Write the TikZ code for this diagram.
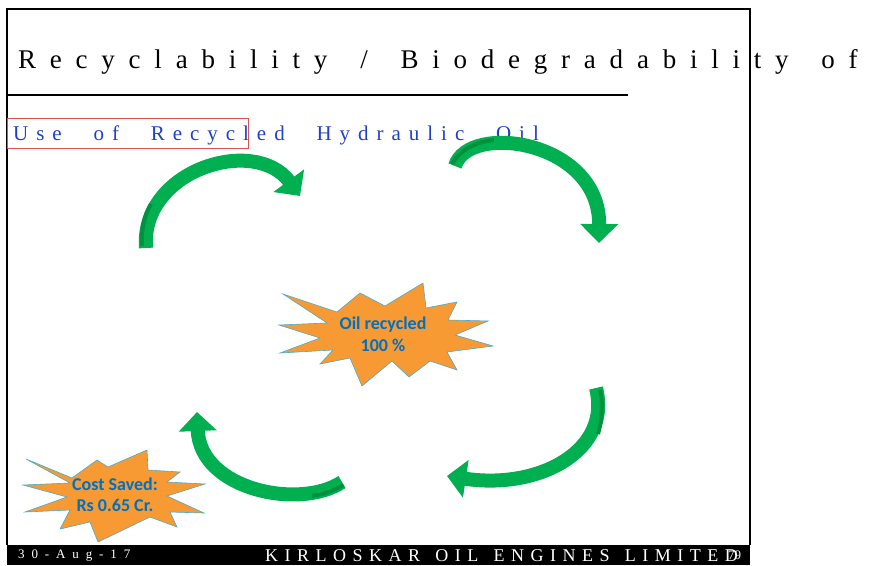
\documentclass[tikz,border=0pt]{standalone}
\usepackage{fontspec}
\setmainfont{Liberation Serif}
\newfontfamily\titlefont[LetterSpace=51,WordSpace=1.6]{Liberation Serif}
\newfontfamily\subfont[LetterSpace=38,WordSpace=2.4]{Liberation Serif}
\newfontfamily\footfont[LetterSpace=36,WordSpace=1.4]{Liberation Serif}
\newfontfamily\datefont[LetterSpace=53]{Liberation Serif}
\newfontfamily\burstfont{Carlito}
\usetikzlibrary{arrows.meta}
\definecolor{cycgreen}{HTML}{00B050}
\definecolor{cycdark}{HTML}{00913F}
\definecolor{burstorange}{HTML}{F79A34}
\definecolor{burstedge}{HTML}{4BACC6}
\definecolor{bursttext}{HTML}{0070C0}
\definecolor{subblue}{HTML}{2040C8}
\definecolor{boxred}{HTML}{D9534F}
\begin{document}
\begin{tikzpicture}[
			x=1pt, y=-1pt,
			cycarrow/.style={draw=cycgreen, line width=14pt, -{Triangle[length=19pt,width=37pt]}},
			cycshade/.style={draw=cycdark, line width=4pt},
			burst/.style={fill=burstorange, draw=burstedge, line width=0.6pt, line join=miter},
			bursttxt/.style={font=\burstfont\bfseries\fontsize{18}{22}\selectfont, text=bursttext, align=center, inner sep=0},
			slidetxt/.style={anchor=base west, inner sep=0},
		]
		\useasboundingbox (0,0) rectangle (880,565);
		\fill[white] (0,0) rectangle (880,565);
		\draw[line width=1.6pt] (7,545) -- (7,9) -- (750,9) -- (750,545);
		\fill[black] (7,545) rectangle (750,565);
		\node[slidetxt] (title) at (18,68) {\titlefont\fontsize{27}{30}\selectfont Recyclability / Biodegradability of};
		\draw[line width=2pt] (7,95) -- (628,95);
		\node[draw=boxred, line width=0.8pt, minimum width=241pt, minimum height=30pt, anchor=north west, inner sep=0] (hilite) at (7,118) {};
		\node[slidetxt, text=subblue] (subtitle) at (13,140) {\subfont\fontsize{21}{24}\selectfont Use of Recycled Hydraulic Oil};
		\coordinate (t1) at (146,248); \coordinate (h1) at (300,196);
		\coordinate (t2) at (455,166); \coordinate (h2) at (599,243);
		\coordinate (t3) at (596,388); \coordinate (h3) at (447,476);
		\coordinate (t4) at (342,482); \coordinate (h4) at (197,412);
		\draw[cycarrow] (t1) .. controls (140,170) and (255,135) .. (h1);
		\draw[cycarrow] (t2) .. controls (468,122) and (600,140) .. (h2);
		\draw[cycarrow] (t3) .. controls (612,450) and (540,490) .. (h3);
		\draw[cycarrow] (t4) .. controls (300,510) and (200,490) .. (h4);
		\draw[cycshade] (142,246) .. controls (141,230) and (144,216) .. (151,204);
		\draw[cycshade] (452,164) .. controls (460,150) and (475,142) .. (494,140);
		\draw[cycshade] (600,390) .. controls (603,405) and (602,420) .. (598,434);
		\draw[cycshade] (343,485) .. controls (335,490) and (325,494) .. (312,496);
		\draw[burst] (283,294) -- (337,312) -- (360,293) -- (385,306) -- (423,283) -- (426,308) -- (457,302) -- (448,320) -- (488,321) -- (455,335) -- (493,346) -- (447,352) -- (457,370) -- (430,361) -- (409,377) -- (392,361) -- (362,386) -- (350,358) -- (320,364) -- (333,350) -- (280,353) -- (320,338) -- (279,325) -- (327,323) -- cycle;
		\node[bursttxt] (oil) at (383,334) {Oil recycled\\100 \%};
		\draw[burst] (26,459) -- (72,478) -- (97,460) -- (108,467) -- (147,450) -- (148,470) -- (180,472) -- (167,482) -- (205,484) -- (167,496) -- (204,513) -- (170,512) -- (177,527) -- (150,517) -- (98,542) -- (90,522) -- (60,529) -- (70,510) -- (25,512) -- (67,497) -- (23,485) -- (70,483) -- cycle;
		\node[bursttxt, font=\burstfont\bfseries\fontsize{18}{21}\selectfont] (saved) at (115,495) {Cost Saved:\\Rs 0.65 Cr.};
		\node[slidetxt, text=white] (date) at (18,558) {\datefont\fontsize{13}{15}\selectfont 30-Aug-17};
		\node[slidetxt, text=white] (company) at (265,561) {\footfont\fontsize{18}{20}\selectfont KIRLOSKAR OIL ENGINES LIMITED};
		\node[slidetxt, text=white] (page) at (728,559) {\fontsize{13}{15}\selectfont 79};
		\end{tikzpicture}
\end{document}
